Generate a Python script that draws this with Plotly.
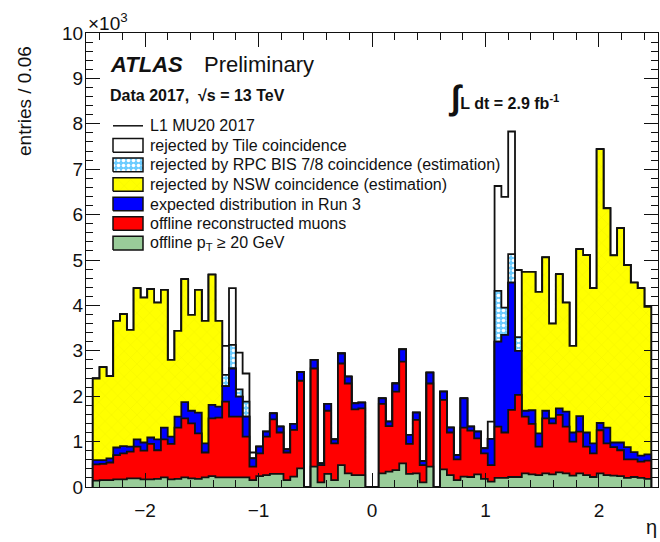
import numpy as np
import plotly.graph_objects as go

# ---- binning: 82 bins of width 0.06 in eta ----
bin_width = 0.06
eta_low = -2.46
n_bins = 82
edges = np.round(eta_low + bin_width * np.arange(n_bins + 1), 4)

# ---- per-bin entries (stack tops, left to right in eta) ----
l1_total = [
    2390, 2640, 2440, 3660, 3810, 3460, 4380, 4170, 4360, 4060, 4340, 2800, 3440, 4580, 3790, 4340, 3660, 4680, 3660,
    3110, 4380, 2960, 2500,
    760,
    890, 1220, 1620, 1330, 830, 1390, 2530, 0, 2800, 520,
    1830, 1050, 2940, 2430, 1840, 1860, 0, 0, 1950, 1440,
    2280, 3030, 1150, 1640, 570, 2520, 0, 2100, 1310, 700,
    1950, 1330, 1220, 850,
    1440, 6630, 6390, 7830, 4780,
    4740, 4740, 4300, 5060, 3600, 4690, 4060, 3110, 5240, 5110, 4380, 7440, 6140, 5100, 5700, 4890, 4500, 4380, 3970,
]
after_tile = [
    2390, 2640, 2440, 3660, 3810, 3460, 4380, 4170, 4360, 4060, 4340, 2800, 3440, 4580, 3790, 4340, 3660, 4680, 3660,
    2470, 3130, 2150, 1880,
    630,
    890, 1220, 1620, 1330, 830, 1390, 2530, 0, 2800, 520,
    1830, 1050, 2940, 2430, 1840, 1860, 0, 0, 1950, 1440,
    2280, 3030, 1150, 1640, 570, 2520, 0, 2100, 1310, 700,
    1950, 1330, 1220, 850,
    1060, 4320, 3950, 5130, 3300,
    4740, 4740, 4300, 5060, 3600, 4690, 4060, 3110, 5240, 5110, 4380, 7440, 6140, 5100, 5700, 4890, 4500, 4380, 3970,
]
after_rpc = [
    2390, 2640, 2440, 3660, 3810, 3460, 4380, 4170, 4360, 4060, 4340, 2800, 3440, 4580, 3790, 4340, 3660, 4680, 3660,
    2220, 2610, 1990, 1550,
    630,
    890, 1220, 1620, 1330, 830, 1390, 2530, 0, 2800, 520,
    1830, 1050, 2940, 2430, 1840, 1860, 0, 0, 1950, 1440,
    2280, 3030, 1150, 1640, 570, 2520, 0, 2100, 1310, 700,
    1950, 1330, 1220, 850,
    1060, 3200, 3350, 4500, 3000,
    4740, 4740, 4300, 5060, 3600, 4690, 4060, 3110, 5240, 5110, 4380, 7440, 6140, 5100, 5700, 4890, 4500, 4380, 3970,
]
run3_expected = [
    590, 590, 630, 870, 900, 890, 1050, 980, 1090, 1050, 1310, 1110, 1550, 1870, 1680, 1640, 960, 1810, 1770,
    2220, 2610, 1990, 1550,
    630,
    890, 1220, 1620, 1330, 830, 1390, 2530, 0, 2800, 520,
    1830, 1050, 2940, 2430, 1840, 1860, 0, 0, 1950, 1440,
    2280, 3030, 1150, 1640, 570, 2520, 0, 2100, 1310, 700,
    1950, 1330, 1220, 850,
    1060, 3200, 3350, 4500, 3000,
    1680, 1690, 1180, 1680, 1510, 1730, 1660, 1200, 1560, 1200, 960, 1410, 1310, 980, 980, 880, 770, 690, 720,
]
offline_reco = [
    500, 510, 540, 700, 740, 780, 890, 800, 950, 810, 1050, 950, 1310, 1510, 1400, 1180, 760, 1510, 1530,
    1880, 1550, 1550, 1110,
    450,
    740, 1110, 1490, 1200, 760, 1260, 2340, 0, 2610, 480,
    1680, 960, 2720, 2280, 1710, 1730, 0, 0, 1830, 1340,
    2100, 2760, 950, 1480, 480, 2280, 0, 1920, 1200, 610,
    1310, 1240, 1070, 740,
    480, 1330, 1200, 1700, 2030,
    1550, 1390, 890, 1510, 1400, 1590, 1330, 1000, 1220, 890, 740, 1250, 960, 880, 810, 610, 610, 560, 580,
]
offline_pt20 = [
    140, 150, 150, 170, 170, 190, 190, 170, 170, 180, 210, 170, 180, 210, 190, 180, 210, 240, 210,
    210, 210, 210, 210,
    150,
    240, 260, 290, 290, 150, 230, 410, 0, 450, 100,
    290, 150, 480, 300, 260, 260, 0, 0, 300, 340,
    370, 520, 290, 300, 100, 450, 0, 390, 260, 150,
    230, 220, 280, 180,
    120, 200, 200, 220, 220,
    300, 280, 260, 300, 280, 320, 300, 250, 300, 260, 220, 300, 260, 250, 240, 200, 220, 200, 180,
]

legend_labels = [
    "L1 MU20 2017",
    "rejected by Tile coincidence",
    "rejected by RPC BIS 7/8 coincidence (estimation)",
    "rejected by NSW coincidence (estimation)",
    "expected distribution in Run 3",
    "offline reconstructed muons",
    "offline p<sub>T</sub> ≥ 20 GeV",
]

FONT = "Liberation Sans, Arial, Helvetica, sans-serif"
LINE = "#111111"

YELLOW_PAT = dict(shape="x", bgcolor="#ffff00", fgcolor="#d8d800", fgopacity=0.45, size=9, solidity=0.07)
CYAN_PAT = dict(shape=".", bgcolor="#6cccff", fgcolor="#ffffff", fgopacity=1.0, size=5, solidity=0.4)

# drawing order: outermost histogram first, each later fill hides the earlier outlines
layers = [
    (l1_total, "#ffffff", None),
    (after_tile, "#6cccff", CYAN_PAT),
    (after_rpc, "#ffff00", YELLOW_PAT),
    (run3_expected, "#0000ff", None),
    (offline_reco, "#ff0000", None),
    (offline_pt20, "#99cc99", None),
]


def step_outline(values):
    v = np.asarray(values, dtype=float)
    xs = np.concatenate([[edges[0]], edges[:-1], [edges[-1]], [edges[-1]]])
    ys = np.concatenate([[0.0], v, [v[-1]], [0.0]])
    return xs, ys


fig = go.Figure()
for vals, color, pattern in layers:
    xs, ys = step_outline(vals)
    kw = dict(fillpattern=pattern) if pattern else {}
    fig.add_trace(go.Scatter(
        x=xs, y=ys, mode="lines", line=dict(shape="hv", color=LINE, width=1.8),
        fill="tozeroy", fillcolor=color, showlegend=False, hoverinfo="skip", **kw))

# ---- legend (inside the frame, drawn on an overlay [0,1] axis pair) ----
plot_w, plot_h = 572.0, 454.0
box_x0, box_x1 = 27.0 / plot_w, 57.0 / plot_w
text_x = 62.0 / plot_w
row_y = [361.2 - 19.55 * i for i in range(7)]  # pixel height above the x axis
box_half = 6.8
for i, (vals, color, pattern) in enumerate(layers):
    yc = row_y[i + 1]
    y0, y1 = (yc - box_half) / plot_h, (yc + box_half) / plot_h
    kw = dict(fillpattern=pattern) if pattern else {}
    fig.add_trace(go.Scatter(
        x=[box_x0, box_x1, box_x1, box_x0, box_x0], y=[y0, y0, y1, y1, y0],
        xaxis="x2", yaxis="y2", mode="lines", line=dict(color=LINE, width=1.5),
        fill="toself", fillcolor=color, showlegend=False, hoverinfo="skip", **kw))

shapes = [dict(type="line", xref="paper", yref="paper", x0=box_x0, x1=box_x1,
               y0=row_y[0] / plot_h, y1=row_y[0] / plot_h, line=dict(color=LINE, width=1.5))]

annotations = []
for i, lab in enumerate(legend_labels):
    annotations.append(dict(x=text_x, y=row_y[i] / plot_h, xref="paper", yref="paper",
                            text=lab, showarrow=False, xanchor="left", yanchor="middle",
                            font=dict(family=FONT, size=16, color="#111111")))

annotations += [
    dict(x=22 / plot_w, y=(487 - 64.5) / plot_h, xref="paper", yref="paper", text="<b><i>ATLAS</i></b>",
         showarrow=False, xanchor="left", yanchor="middle", font=dict(family=FONT, size=22, color="#111111")),
    dict(x=115.5 / plot_w, y=(487 - 64.5) / plot_h, xref="paper", yref="paper", text="Preliminary",
         showarrow=False, xanchor="left", yanchor="middle", font=dict(family=FONT, size=22, color="#111111")),
    dict(x=22 / plot_w, y=(487 - 95.5) / plot_h, xref="paper", yref="paper",
         text="<b>Data 2017,  √s = 13 TeV</b>",
         showarrow=False, xanchor="left", yanchor="middle", font=dict(family=FONT, size=16, color="#111111")),
    dict(x=360 / plot_w, y=(487 - 97) / plot_h, xref="paper", yref="paper",
         text="<b><span style='font-size:34px'>∫</span>L dt = 2.9 fb<sup>-1</sup></b>",
         showarrow=False, xanchor="left", yanchor="middle", font=dict(family=FONT, size=16, color="#111111")),
    dict(x=0.0, y=(487 - 22) / plot_h, xref="paper", yref="paper", text="×10<sup>3</sup>",
         showarrow=False, xanchor="left", yanchor="middle", font=dict(family=FONT, size=19, color="#111111")),
    dict(x=-62 / plot_w, y=(487 - 101) / plot_h, xref="paper", yref="paper", text="entries / 0.06",
         textangle=-90, showarrow=False, xanchor="center", yanchor="middle",
         font=dict(family=FONT, size=19, color="#111111")),
    dict(x=1.0 - 7 / plot_w, y=-40 / plot_h, xref="paper", yref="paper", text="η",
         showarrow=False, xanchor="center", yanchor="middle", font=dict(family=FONT, size=20, color="#111111")),
]

x_ticks = [-2, -1, 0, 1, 2]
y_ticks = list(range(0, 10001, 1000))

fig.update_layout(
    width=660, height=542,
    margin=dict(l=86, r=2, t=33, b=55),
    paper_bgcolor="white", plot_bgcolor="white",
    font=dict(family=FONT, size=19, color="#111111"),
    showlegend=False,
    shapes=shapes,
    annotations=annotations,
    xaxis=dict(range=[-2.52, 2.52], tickvals=x_ticks,
               ticktext=[("−" if t < 0 else "") + str(abs(t)) for t in x_ticks],
               ticks="inside", ticklen=14, tickwidth=1, tickcolor="#111111",
               minor=dict(ticks="inside", ticklen=7, dtick=0.2, tick0=0, tickcolor="#111111"),
               showline=True, linecolor="#111111", linewidth=1, mirror="ticks",
               showgrid=False, zeroline=False, tickfont=dict(size=19), ticklabelstandoff=6),
    yaxis=dict(range=[0, 10000], tickvals=y_ticks, ticktext=[str(t // 1000) for t in y_ticks],
               ticks="inside", ticklen=14, tickwidth=1, tickcolor="#111111",
               minor=dict(ticks="inside", ticklen=7, dtick=200, tick0=0, tickcolor="#111111"),
               showline=True, linecolor="#111111", linewidth=1, mirror="ticks",
               showgrid=False, zeroline=False, tickfont=dict(size=19), ticklabelstandoff=-2),
    xaxis2=dict(overlaying="x", anchor="y2", range=[0, 1], visible=False, fixedrange=True),
    yaxis2=dict(overlaying="y", anchor="x2", range=[0, 1], visible=False, fixedrange=True),
)

fig.write_html("out.html")
